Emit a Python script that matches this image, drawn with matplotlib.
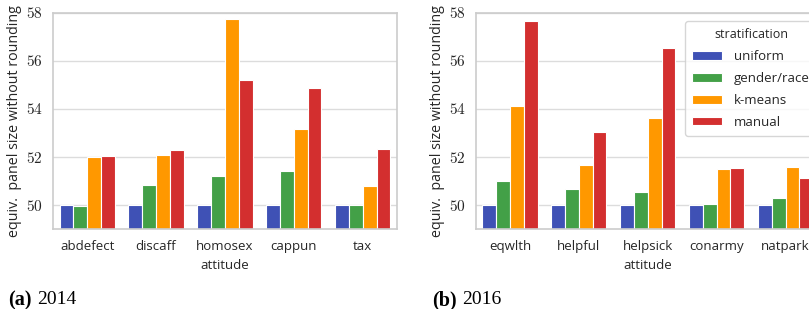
import numpy as np
import matplotlib
matplotlib.use("Agg")
import matplotlib.pyplot as plt
from matplotlib.ticker import FuncFormatter

plt.rcParams['font.family'] = ['Open Sans', 'DejaVu Sans']
plt.rcParams['mathtext.fontset'] = 'cm'

# данные
methods = ['uniform', 'gender/race', 'k-means', 'manual']
colors = ['#3F51B5', '#43A047', '#FF9800', '#D32F2F']

cats_2014 = ['abdefect', 'discaff', 'homosex', 'cappun', 'tax']
vals_2014 = {
    'uniform':     [50.0, 50.0, 50.0, 50.0, 50.0],
    'gender/race': [49.95, 50.84, 51.23, 51.44, 50.03],
    'k-means':     [51.99, 52.10, 57.74, 53.17, 50.79],
    'manual':      [52.03, 52.28, 55.19, 54.86, 52.34],
}

cats_2016 = ['eqwlth', 'helpful', 'helpsick', 'conarmy', 'natpark']
vals_2016 = {
    'uniform':     [50.0, 50.0, 50.0, 50.0, 50.0],
    'gender/race': [50.99, 50.68, 50.53, 50.07, 50.28],
    'k-means':     [54.14, 51.69, 53.61, 51.49, 51.60],
    'manual':      [57.64, 53.04, 56.54, 51.53, 51.13],
}

W, H = 809, 309
fig = plt.figure(figsize=(W / 100, H / 100), dpi=100)

ax_w = 344.5 / W
ax_h = (229.3 - 12.7) / H
ax_b = (H - 229.3) / H
ax1 = fig.add_axes([52.7 / W, ax_b, ax_w, ax_h])
ax2 = fig.add_axes([475.5 / W, ax_b, ax_w, ax_h])


def draw(ax, cats, vals):
    x = np.arange(len(cats))
    for j, m in enumerate(methods):
        ax.bar(x + (j - 1.5) * 0.2, np.array(vals[m]) - 49, bottom=49, width=0.2,
               color=colors[j], edgecolor='white', linewidth=0.8, label=m, zorder=2)
    ax.set_xlim(-0.5, len(cats) - 0.5)
    ax.set_ylim(49, 58)
    ax.set_yticks([50, 52, 54, 56, 58])
    ax.yaxis.set_major_formatter(FuncFormatter(lambda v, p: '$%d$' % v))
    ax.set_xticks(x)
    ax.set_xticklabels(cats)
    ax.tick_params(axis='x', length=0, labelsize=9.5, colors='#262626', pad=8)
    ax.tick_params(axis='y', length=0, labelsize=11, colors='#262626', pad=7)
    ax.grid(axis='y', color='#dcdcdc', linewidth=1, zorder=0)
    ax.set_axisbelow(True)
    for s in ax.spines.values():
        s.set_color('#cccccc')
        s.set_linewidth(1.2)
    ax.set_xlabel('attitude', fontsize=9.5, color='#262626', labelpad=4)
    ax.set_ylabel('equiv.  panel size without rounding', fontsize=10.3,
                  color='#262626', labelpad=3)


draw(ax1, cats_2014, vals_2014)
draw(ax2, cats_2016, vals_2016)

leg = ax2.legend(title='stratification', loc='upper left',
                 bbox_to_anchor=(0.59, 0.99), fontsize=9.5, title_fontsize=9,
                 handlelength=2.3, handleheight=0.6, labelspacing=0.68,
                 handletextpad=0.9, borderpad=0.5, frameon=True, fancybox=True)
leg.get_frame().set_edgecolor('#cccccc')
leg.get_frame().set_linewidth(1.0)
for t in leg.get_texts():
    t.set_color('#262626')
leg.get_title().set_color('#262626')

# подписи подграфиков
serif = ['Liberation Serif', 'DejaVu Serif']
cy = 1 - 300 / H
fig.text(8 / W, cy, '(a)', fontweight='bold', fontsize=14.5,
         family=serif, va='center', ha='left')
fig.text(37 / W, cy, '2014', fontsize=14, family=serif, va='center', ha='left')
fig.text(432 / W, cy, '(b)', fontweight='bold', fontsize=14.5,
         family=serif, va='center', ha='left')
fig.text(462 / W, cy, '2016', fontsize=14, family=serif, va='center', ha='left')

fig.savefig('out.png', dpi=100)
